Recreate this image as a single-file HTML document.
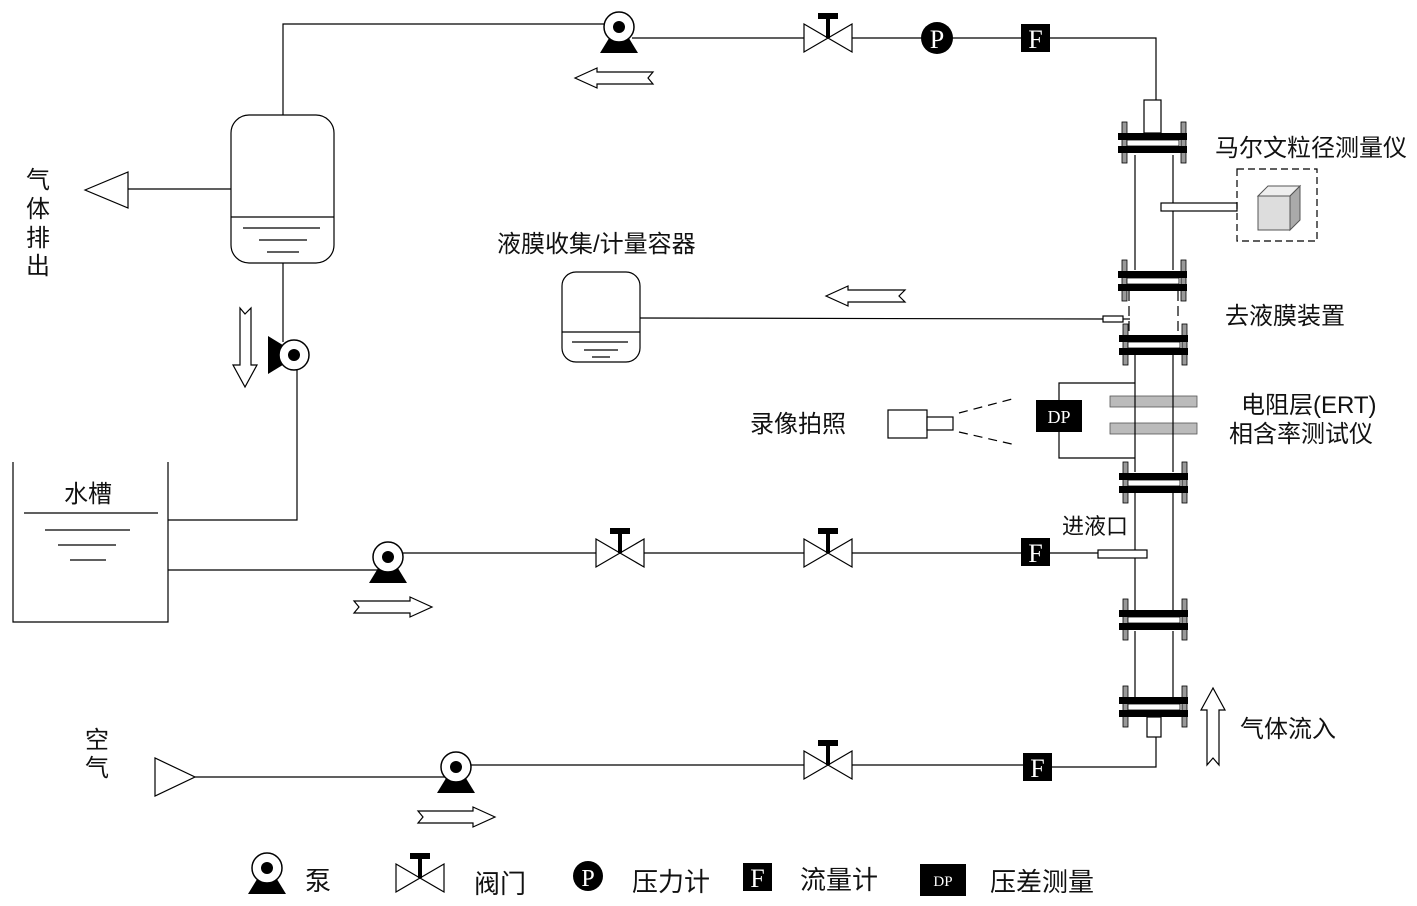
<!DOCTYPE html>
<html><head><meta charset="utf-8"><style>
html,body{margin:0;padding:0;background:#fff;}
svg{display:block;}
text{font-family:"Liberation Sans","Noto Sans CJK SC",sans-serif;fill:#111;}
.s{font-family:"Liberation Serif","Noto Serif CJK SC",serif;}
</style></head><body>
<svg width="1417" height="906" viewBox="0 0 1417 906" xmlns="http://www.w3.org/2000/svg">
<defs>
<g id="pump">
<polygon points="-8,8 8,8 19,26 -19,26" fill="#000"/>
<circle r="15" fill="#fff" stroke="#000" stroke-width="1.5"/>
<circle r="6" fill="#000"/>
</g>
<g id="valve">
<polygon points="-24,-14 0,0 -24,14" fill="#fff" stroke="#000" stroke-width="1.2"/>
<polygon points="24,-14 0,0 24,14" fill="#fff" stroke="#000" stroke-width="1.2"/>
<line x1="0" y1="0" x2="0" y2="-20" stroke="#000" stroke-width="4"/>
<rect x="-10" y="-25" width="20" height="6" fill="#000"/>
</g>
<g id="flange">
<rect x="-56" y="-11" width="5" height="41" fill="#999" stroke="#000" stroke-width="0.8"/>
<rect x="3" y="-11" width="5" height="41" fill="#999" stroke="#000" stroke-width="0.8"/>
<rect x="-60" y="0" width="69" height="7" fill="#000"/>
<rect x="-60" y="13" width="69" height="7" fill="#000"/>
<rect x="-51" y="7" width="52" height="6" fill="#fff" stroke="#000" stroke-width="0.8"/>
</g>
<g id="F"><rect x="-14" y="-14" width="29" height="28" fill="#000"/><text x="0.5" y="10" text-anchor="middle" class="s" font-size="26" style="fill:#fff">F</text></g>
</defs>

<g stroke="#000" stroke-width="1.2" fill="none">
<polyline points="283,115 283,24 605,24"/>
<polyline points="632,38 1156,38 1156,100"/>
<rect x="1144" y="100" width="17" height="33" fill="#fff"/>
<line x1="1135" y1="155" x2="1135" y2="270"/>
<line x1="1173" y1="155" x2="1173" y2="270"/>
<line x1="1129" y1="291" x2="1129" y2="335" stroke-dasharray="10,5"/>
<line x1="1178" y1="291" x2="1178" y2="335" stroke-dasharray="10,5"/>
<line x1="1135" y1="493" x2="1135" y2="610"/>
<line x1="1173" y1="493" x2="1173" y2="610"/>
<line x1="1135" y1="631" x2="1135" y2="697"/>
<line x1="1173" y1="631" x2="1173" y2="697"/>
<rect x="1147" y="717" width="14" height="20" fill="#fff"/>
<polyline points="1156,737 1156,767 1050,767"/>
<rect x="1161" y="203" width="76" height="8" fill="#fff"/>
<rect x="1237" y="169" width="80" height="72" stroke-dasharray="7,4"/>
<rect x="1103" y="316" width="20" height="6" fill="#fff"/>
<line x1="640" y1="318" x2="1103" y2="319"/>
<line x1="1123" y1="319" x2="1130" y2="319"/>
<polyline points="1059,400 1059,383 1135,383"/>
<polyline points="1059,432 1059,458 1135,458"/>
<rect x="888" y="410" width="39" height="28" fill="#fff"/>
<rect x="927" y="417" width="26" height="13" fill="#fff"/>
<line x1="959" y1="413" x2="1016" y2="398" stroke-dasharray="9,6"/>
<line x1="959" y1="432" x2="1016" y2="445" stroke-dasharray="9,6"/>
<line x1="1050" y1="553" x2="1098" y2="553"/>
<rect x="1098" y="550" width="49" height="8" fill="#fff"/>
<line x1="400" y1="553" x2="1021" y2="553"/>
<line x1="195" y1="777" x2="445" y2="777"/>
<line x1="470" y1="765" x2="1023" y2="765"/>
<polyline points="13,462 13,622 168,622 168,462"/>
<line x1="24" y1="513" x2="158" y2="513"/>
<line x1="45" y1="530" x2="130" y2="530"/>
<line x1="58" y1="545" x2="116" y2="545"/>
<line x1="70" y1="560" x2="106" y2="560"/>
<polyline points="168,520 297,520 297,370"/>
<polyline points="168,570 380,570"/>
<rect x="231" y="115" width="103" height="148" rx="18" fill="#fff"/>
<line x1="231" y1="217" x2="334" y2="217"/>
<line x1="243" y1="228" x2="320" y2="228"/>
<line x1="259" y1="240" x2="307" y2="240"/>
<line x1="267" y1="252" x2="299" y2="252"/>
<line x1="128" y1="189" x2="231" y2="189"/>
<polygon points="85,190 128,172 128,208" fill="#fff"/>
<line x1="283" y1="263" x2="283" y2="342"/>
<rect x="562" y="272" width="78" height="90" rx="14" fill="#fff"/>
<line x1="562" y1="332" x2="640" y2="332"/>
<line x1="572" y1="342" x2="628" y2="342"/>
<line x1="584" y1="350" x2="618" y2="350"/>
<line x1="592" y1="357" x2="610" y2="357"/>
<polygon points="155,758 155,796 195,777" fill="#fff"/>
<path d="M575,78 L597,68 L597,72 L653,72 L648,78 L653,84 L597,84 L597,88 Z" fill="#fff"/>
<path d="M826,296 L848,286 L848,290 L905,290 L899,296 L905,302 L848,302 L848,306 Z" fill="#fff"/>
<path d="M432,607 L410,597 L410,601 L354,601 L359,607 L354,613 L410,613 L410,617 Z" fill="#fff"/>
<path d="M495,817 L473,807 L473,811 L418,811 L423,817 L418,823 L473,823 L473,827 Z" fill="#fff"/>
<path d="M245,387 L233,365 L240,365 L240,308 L245,314 L251,308 L251,365 L257,365 Z" fill="#fff"/>
<path d="M1213,688 L1201,710 L1207,710 L1207,765 L1213,758 L1219,765 L1219,710 L1225,710 Z" fill="#fff"/>
</g>

<use href="#flange" x="1178" y="133"/>
<use href="#flange" x="1178" y="271"/>
<use href="#flange" x="1179" y="335"/>
<use href="#flange" x="1179" y="473"/>
<use href="#flange" x="1179" y="610"/>
<use href="#flange" x="1179" y="697"/>
<rect x="1110" y="396" width="87" height="11" fill="#bbb" stroke="#555" stroke-width="0.8"/>
<rect x="1110" y="423" width="87" height="11" fill="#bbb" stroke="#555" stroke-width="0.8"/>
<line x1="1135" y1="355" x2="1135" y2="472" stroke="#000" stroke-width="1.2"/>
<line x1="1173" y1="355" x2="1173" y2="472" stroke="#000" stroke-width="1.2"/>
<polygon points="1258,196 1268,186 1300,186 1290,196" fill="#eee" stroke="#555"/>
<polygon points="1290,196 1300,186 1300,220 1290,230" fill="#aaa" stroke="#555"/>
<rect x="1258" y="196" width="32" height="34" fill="#ddd" stroke="#555"/>
<rect x="1036" y="400" width="46" height="32" fill="#000"/>
<text x="1059" y="423" text-anchor="middle" class="s" font-size="18" style="fill:#fff">DP</text>

<use href="#pump" x="619" y="27"/>
<use href="#valve" x="828" y="38"/>
<circle cx="937" cy="38" r="16" fill="#000"/>
<text x="937" y="48" text-anchor="middle" class="s" font-size="26" style="fill:#fff">P</text>
<use href="#F" x="1035" y="38"/>
<g transform="translate(294,355) rotate(90)"><use href="#pump"/></g>
<use href="#pump" x="388" y="557"/>
<use href="#valve" x="620" y="553"/>
<use href="#valve" x="828" y="553"/>
<use href="#F" x="1035" y="552"/>
<use href="#pump" x="456" y="767"/>
<use href="#valve" x="828" y="765"/>
<use href="#F" x="1037" y="767"/>

<use href="#pump" x="267" y="868"/>
<use href="#valve" x="420" y="878"/>
<circle cx="588" cy="876" r="15" fill="#000"/>
<text x="588" y="886" text-anchor="middle" class="s" font-size="24" style="fill:#fff">P</text>
<use href="#F" x="757" y="877"/>
<rect x="920" y="864" width="46" height="32" fill="#000"/>
<text x="943" y="886" text-anchor="middle" class="s" font-size="15" style="fill:#fff">DP</text>
<g font-size="24">
<text x="305" y="890" font-size="26">泵</text>
<text x="474" y="893" font-size="26">阀门</text>
<text x="632" y="891" font-size="26">压力计</text>
<text x="800" y="889" font-size="26">流量计</text>
<text x="990" y="891" font-size="26">压差测量</text>
<text x="1215" y="156">马尔文粒径测量仪</text>
<text x="1225" y="324">去液膜装置</text>
<text x="1241" y="413">电阻层(ERT)</text>
<text x="1229" y="442">相含率测试仪</text>
<text x="750" y="432">录像拍照</text>
<text x="497" y="252">液膜收集/计量容器</text>
<text x="1062" y="534" font-size="22">进液口</text>
<text x="1240" y="737">气体流入</text>
<text x="64" y="502">水槽</text>
<text x="26" y="188">气</text>
<text x="26" y="217">体</text>
<text x="26" y="246">排</text>
<text x="26" y="274">出</text>
<text x="85" y="748">空</text>
<text x="85" y="776">气</text>
</g>
</svg>
</body></html>
